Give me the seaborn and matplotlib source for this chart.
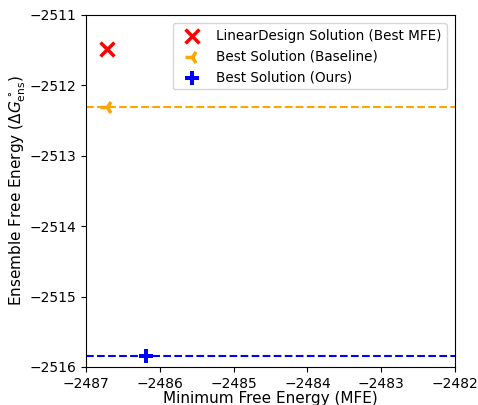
import matplotlib
matplotlib.use("Agg")
import matplotlib.pyplot as plt
import seaborn as sns
import pandas as pd

# Solutions: (MFE, ensemble free energy)
labels = ["LinearDesign Solution (Best MFE)", "Best Solution (Baseline)", "Best Solution (Ours)"]
mfe = [-2486.72, -2486.72, -2486.19]
efe = [-2511.48, -2512.31, -2515.84]
colors = ["red", "orange", "blue"]
markers = ["x", "3", "P"]

df = pd.DataFrame({"label": labels, "mfe": mfe, "efe": efe})

sns.set_style("ticks")
plt.rcParams["font.family"] = ["DejaVu Sans"]
plt.rcParams.update({
    "text.color": "black",
    "axes.labelcolor": "black",
    "xtick.color": "black",
    "ytick.color": "black",
})

fig, ax = plt.subplots(figsize=(4.78, 4.05), dpi=100)
fig.subplots_adjust(left=0.18, right=0.952, top=0.963, bottom=0.094)

for i, row in df.iterrows():
    kw = dict(color=colors[i], marker=markers[i], s=100, label=row["label"], ax=ax, zorder=3)
    if markers[i] in ("x", "3"):
        kw["linewidth"] = 2.5
    else:
        kw["linewidth"] = 0
    sns.scatterplot(x=[row["mfe"]], y=[row["efe"]], **kw)

# reference levels for the two best solutions
ax.axhline(efe[1], color="orange", linestyle="--", linewidth=1.5, zorder=2)
ax.axhline(efe[2], color="blue", linestyle="--", linewidth=1.5, zorder=2)

ax.set_xlim(-2487, -2482)
ax.set_ylim(-2516, -2511)
ax.set_xticks([-2487, -2486, -2485, -2484, -2483, -2482])
ax.set_yticks([-2516, -2515, -2514, -2513, -2512, -2511])
ax.tick_params(labelsize=10, length=3.5, width=0.8, colors="black")
for s in ax.spines.values():
    s.set_linewidth(0.8)
    s.set_color("black")

ax.set_xlabel("Minimum Free Energy (MFE)", fontsize=11, labelpad=0)
ax.set_ylabel(r"Ensemble Free Energy ($\Delta G^\circ_{\mathrm{ens}}$)", fontsize=11, labelpad=1)
ax.legend(loc="upper right", fontsize=9.75, borderaxespad=0.6)

fig.savefig("out.png", dpi=100)
